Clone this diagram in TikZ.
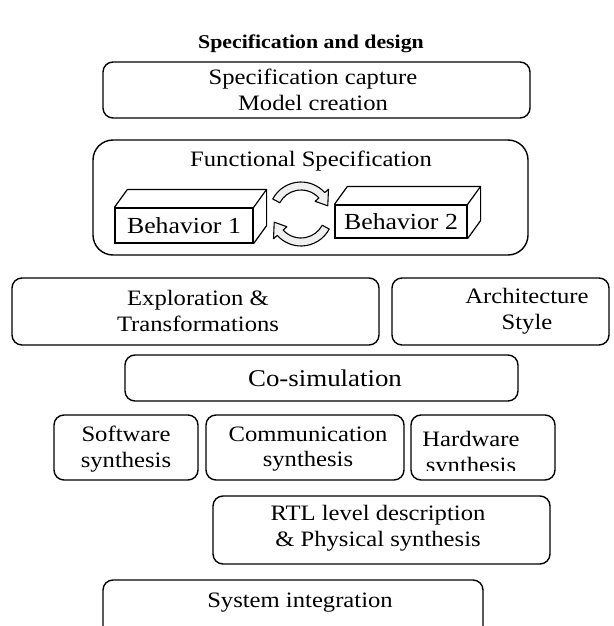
\documentclass[tikz,border=0pt]{standalone}
\usepackage{fontspec}
\setmainfont{Liberation Serif}[FakeStretch=1.12]
\usetikzlibrary{calc,fit}
\begin{document}
\begin{tikzpicture}[x=1pt,y=-1pt,
  box/.style={draw, line width=1.4pt, rounded corners=10pt, inner sep=0pt},
  lbl/.style={align=center, font=\fontsize{22}{25.5}\selectfont, inner sep=0pt},
  cube/.style={draw, line width=1.2pt, fill=white, inner sep=0pt,
    font=\fontsize{23}{26}\selectfont},
  turn/.style={draw, line width=1.1pt, fill=gray!12, line join=round}]
\useasboundingbox (0,0) rectangle (613,626);
\clip (0,0) rectangle (613,626);

% heading
\node[font=\bfseries\fontsize{19.5}{22}\selectfont] (title) at (311,44) {Specification and design};

% capture stage
\node[box, fit={(103,62) (530,118)}] (capture) {};
\node[lbl] (capturetxt) at (313,90) {Specification capture\\Model creation};

% functional specification with two behaviours
\node[box, rounded corners=20pt, fit={(93,140) (528,255)}] (func) {};
\node[lbl] (functxt) at (311,161) {Functional Specification};

\node[cube, minimum width=138pt, minimum height=35pt] (beh1) at (184,225.5) {Behavior 1};
\draw[line width=1.2pt, line join=round] (beh1.north west) -- ++(13,-18) -- ($(beh1.north east)+(13,-18)$)
  -- ($(beh1.south east)+(13,-18)$) -- (beh1.south east);
\draw[line width=1.2pt] (beh1.north east) -- ++(13,-18);

\node[cube, minimum width=132pt, minimum height=33pt] (beh2) at (401,221.5) {Behavior 2};
\draw[line width=1.2pt, line join=round] (beh2.north west) -- ++(13,-18) -- ($(beh2.north east)+(13,-18)$)
  -- ($(beh2.south east)+(13,-18)$) -- (beh2.south east);
\draw[line width=1.2pt] (beh2.north east) -- ++(13,-18);

% curved block arrows between the behaviours
\coordinate (hub) at (301,214);
\path[turn] ($(hub)+(208:32)$) arc[start angle=208, end angle=318, radius=32]
  -- ($(hub)+(318:37)$) -- ($(hub)+(343:28)$) -- ($(hub)+(318:19)$)
  -- ($(hub)+(318:24)$) arc[start angle=318, end angle=208, radius=24] -- cycle;
\path[turn] ($(hub)+(28:32)$) arc[start angle=28, end angle=138, radius=32]
  -- ($(hub)+(138:37)$) -- ($(hub)+(163:28)$) -- ($(hub)+(138:19)$)
  -- ($(hub)+(138:24)$) arc[start angle=138, end angle=28, radius=24] -- cycle;

% exploration and architecture
\node[box, fit={(12,278) (379,345)}] (explore) {};
\node[lbl] (exploretxt) at (198,311) {Exploration \&\\Transformations};
\node[box, fit={(392,278) (609,345)}] (arch) {};
\node[lbl] (archtxt) at (527,311) {Architecture\\Style};

% co-simulation
\node[box, fit={(125,355) (518,401)}] (cosim) {};
\node[lbl, font=\fontsize{24}{26}\selectfont] (cosimtxt) at (325,378) {Co-simulation};

% synthesis row
\node[box, fit={(54,415) (198,480)}] (sw) {};
\node[lbl] (swtxt) at (126,449) {Software\\synthesis};
\node[box, fit={(206,415) (404,480)}] (comm) {};
\node[lbl] (commtxt) at (308,449) {Communication\\synthesis};
\node[box, fit={(411,415) (555,480)}] (hw) {};
\begin{scope}
  \clip (411,415) rectangle (555,470);
  \node[lbl] (hwtxt) at (471,454) {Hardware\\synthesis};
\end{scope}

% RTL and physical synthesis
\node[box, fit={(213,496) (550,564)}] (rtl) {};
\node[lbl] (rtltxt) at (378,528) {RTL level description\\\& Physical synthesis};

% system integration
\node[box, fit={(103,580) (483,650)}] (integ) {};
\node[lbl] (integtxt) at (300,603) {System integration};
\end{tikzpicture}
\end{document}
